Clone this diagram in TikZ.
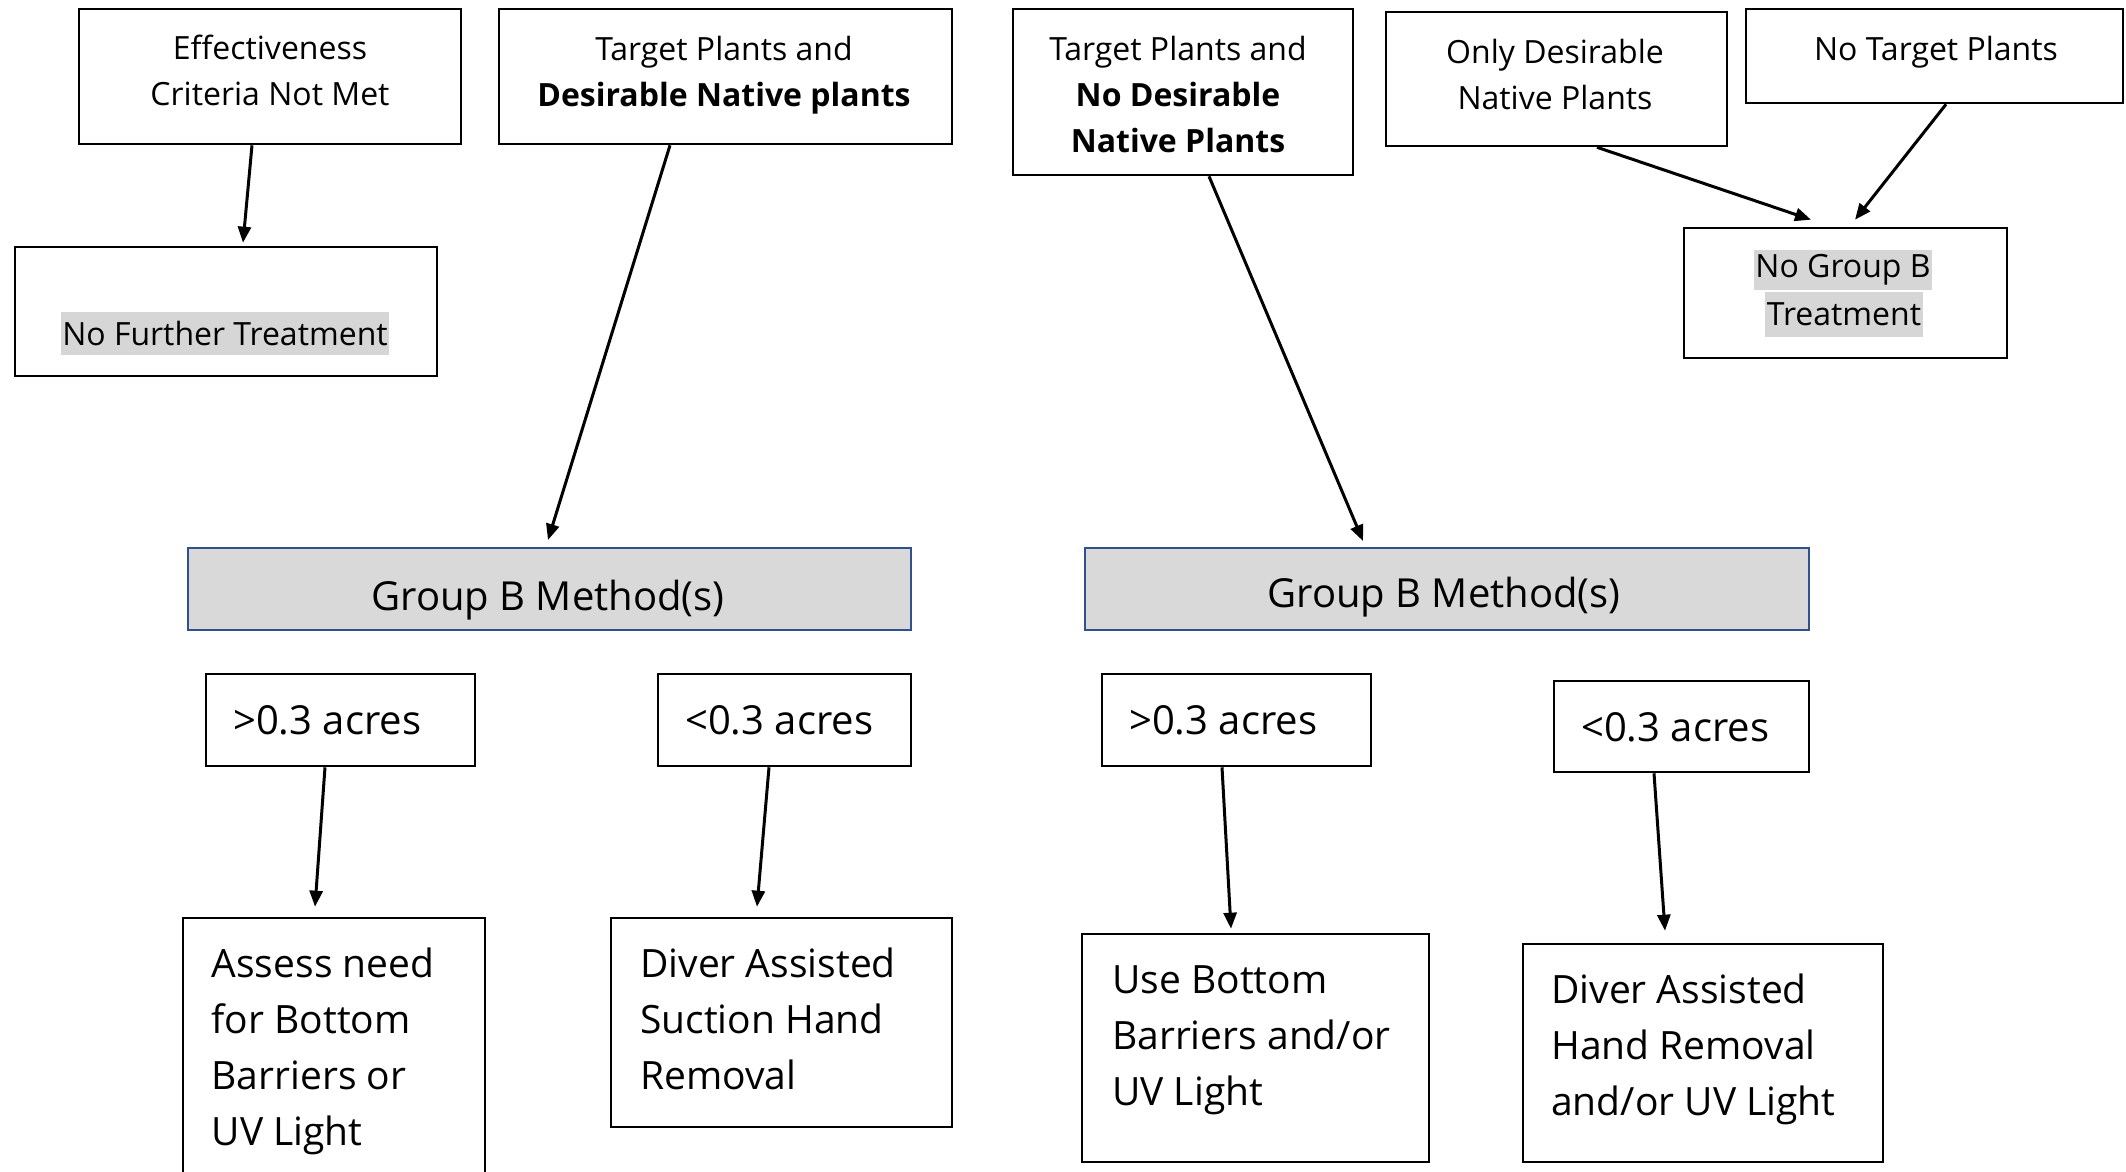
\documentclass[tikz,border=0pt]{standalone}
\usepackage{fontspec}
\setmainfont{Open Sans}
\usetikzlibrary{arrows.meta}
\definecolor{hl}{HTML}{D6D6D6}
\definecolor{gbfill}{HTML}{D9D9D9}
\definecolor{gbdraw}{HTML}{2F528F}
\begin{document}
\begin{tikzpicture}[x=1pt,y=-1pt,
  box/.style={draw=black, line width=2.6pt, inner sep=0pt},
  gbox/.style={draw=gbdraw, fill=gbfill, line width=2pt, inner sep=0pt},
  conn/.style={-{Triangle[length=16pt,width=13pt]}, line width=3pt},
  ttxt/.style={font=\fontsize{32}{46}\selectfont, align=center, inner sep=0pt},
  htxt/.style={font=\fontsize{32}{46}\selectfont, fill=hl, inner xsep=1.5pt, inner ysep=0pt},
  mtxt/.style={font=\fontsize{40}{56}\selectfont, inner sep=0pt},
  btxt/.style={font=\fontsize{39}{56}\selectfont, align=left, anchor=west, inner sep=0pt}]
\useasboundingbox[fill=white] (0,0) rectangle (2126,1172);

% top boxes
\node[box, minimum width=382pt, minimum height=135pt] (eff) at (270,76.5) {};
\node[box, minimum width=453pt, minimum height=135pt] (tdes) at (725.5,76.5) {};
\node[box, minimum width=340pt, minimum height=166pt] (tnodes) at (1183,92) {};
\node[box, minimum width=341pt, minimum height=134pt] (onlydes) at (1556.5,79) {};
\node[box, minimum width=377pt, minimum height=94pt] (notarget) at (1934.5,56) {};
\node[box, minimum width=422pt, minimum height=129pt] (nofurther) at (226,311.5) {};
\node[box, minimum width=323pt, minimum height=130pt] (nogroupb) at (1845.5,293) {};

\node[ttxt] (effT) at (270,70.5) {Effectiveness\\Criteria Not Met};
\node[ttxt] (tdesT) at (724,75) {Target Plants and\\\textbf{Desirable Native plants}};
\node[ttxt] (tnodesT) at (1178,94) {Target Plants and\\\textbf{No Desirable}\\\textbf{Native Plants}};
\node[ttxt] (onlydesT) at (1555,74.6) {Only Desirable\\Native Plants};
\node[ttxt] (notargetT) at (1936,52) {No Target Plants};
\node[htxt, minimum height=43pt] (nofurtherT) at (225,333.5) {No Further Treatment};
\node[htxt, minimum height=40pt] (nogroupbT1) at (1843,270) {No Group B};
\node[htxt, minimum height=45pt] (nogroupbT2) at (1844,314) {Treatment};

% group B boxes
\node[gbox, minimum width=723pt, minimum height=82pt] (gbl) at (549.5,589) {};
\node[gbox, minimum width=724pt, minimum height=82pt] (gbr) at (1447,589) {};
\node[mtxt] (gblT) at (548,600) {Group B Method(s)};
\node[mtxt] (gbrT) at (1444,597) {Group B Method(s)};

% acreage boxes
\node[box, minimum width=269pt, minimum height=92pt] (gtl) at (340.5,720) {};
\node[box, minimum width=253pt, minimum height=92pt] (ltl) at (784.5,720) {};
\node[box, minimum width=269pt, minimum height=92pt] (gtr) at (1236.5,720) {};
\node[box, minimum width=255pt, minimum height=91pt] (ltr) at (1681.5,726.5) {};
\node[mtxt, anchor=west] (gtlT) at (233,720) {>0.3 acres};
\node[mtxt, anchor=west] (ltlT) at (685,720) {<0.3 acres};
\node[mtxt, anchor=west] (gtrT) at (1129,720) {>0.3 acres};
\node[mtxt, anchor=west] (ltrT) at (1581,727) {<0.3 acres};

% bottom boxes
\node[box, minimum width=302pt, minimum height=272pt] (assess) at (334,1054) {};
\node[box, minimum width=341pt, minimum height=209pt] (ds) at (781.5,1022.5) {};
\node[box, minimum width=347pt, minimum height=228pt] (use) at (1255.5,1048) {};
\node[box, minimum width=360pt, minimum height=218pt] (dh) at (1703,1053) {};
\node[btxt] (assessT) at (211.5,1051) {Assess need\\for Bottom\\Barriers or\\UV Light};
\node[btxt] (dsT) at (640,1018.5) {Diver Assisted\\Suction Hand\\Removal};
\node[btxt] (useT) at (1112,1040) {Use Bottom\\Barriers and/or\\UV Light};
\node[btxt] (dhT) at (1551,1049) {Diver Assisted\\Hand Removal\\and/or UV Light};

% connectors
\draw[conn] ([xshift=-18pt]eff.south) -- ([xshift=17pt,yshift=3pt]nofurther.north);
\draw[conn] ([xshift=-55.5pt]tdes.south) -- ([xshift=-1.5pt,yshift=7pt]gbl.north);
\draw[conn] ([xshift=26pt]tnodes.south) -- ([xshift=-84pt,yshift=6pt]gbr.north);
\draw[conn] ([xshift=40.5pt]onlydes.south) -- ([xshift=-34.5pt,yshift=7pt]nogroupb.north);
\draw[conn] ([xshift=11.5pt]notarget.south) -- ([xshift=9.5pt,yshift=7pt]nogroupb.north);
\draw[conn] ([xshift=-15.5pt]gtl.south) -- ([xshift=-19pt,yshift=10pt]assess.north);
\draw[conn] ([xshift=-15.5pt]ltl.south) -- ([xshift=-24.5pt,yshift=10pt]ds.north);
\draw[conn] ([xshift=-14.5pt]gtr.south) -- ([xshift=-24.5pt,yshift=4pt]use.north);
\draw[conn] ([xshift=-27.5pt]ltr.south) -- ([xshift=-38pt,yshift=12pt]dh.north);
\end{tikzpicture}
\end{document}
